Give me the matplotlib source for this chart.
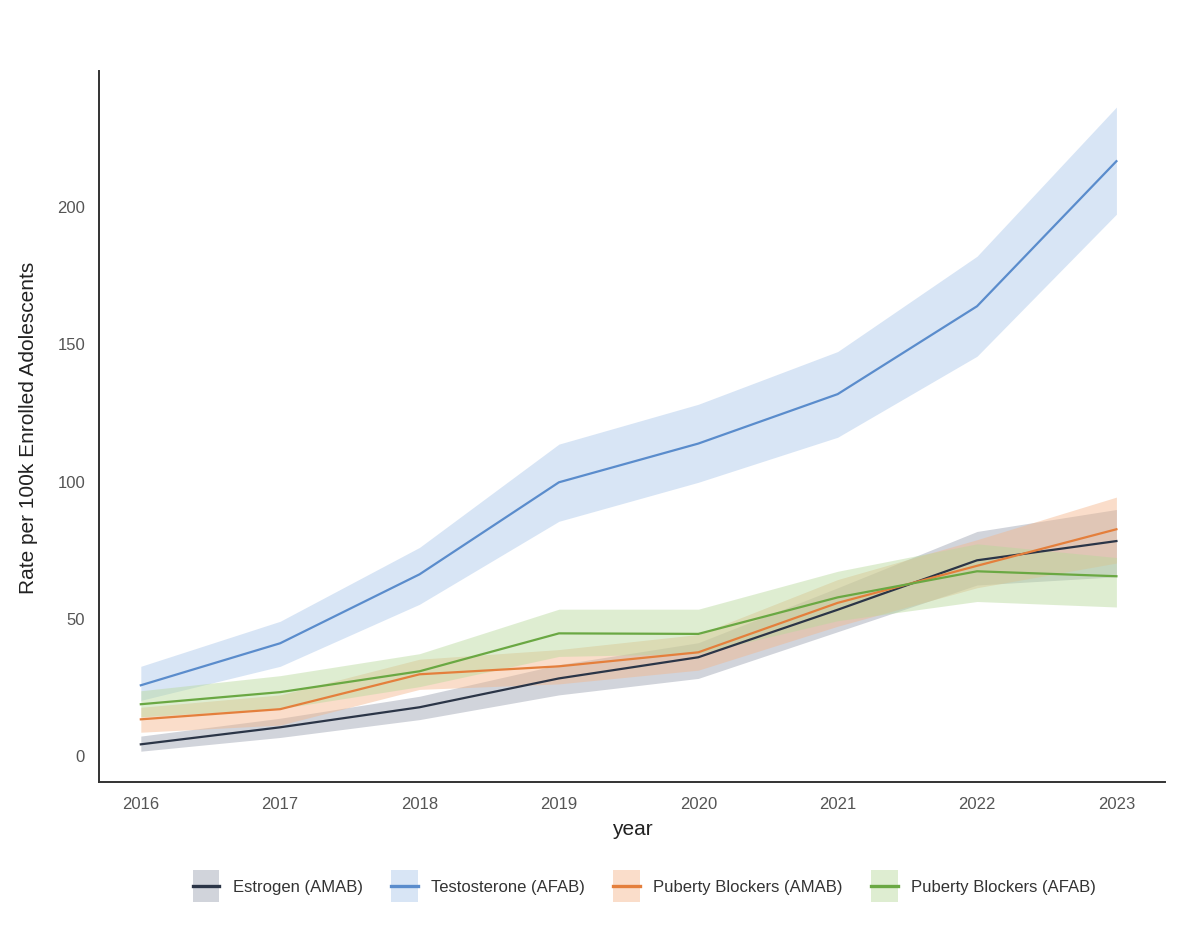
import matplotlib.pyplot as plt
import numpy as np
from matplotlib.patches import Patch, Rectangle
from matplotlib.lines import Line2D

plt.rcParams['font.family'] = ['Liberation Sans', 'DejaVu Sans']

# values
years = [2016, 2017, 2018, 2019, 2020, 2021, 2022, 2023]
series = ["Estrogen (AMAB)", "Testosterone (AFAB)", "Puberty Blockers (AMAB)", "Puberty Blockers (AFAB)"]

estrogen = [4.0, 10.2, 17.5, 28.0, 35.7, 53.0, 71.0, 78.0]
estrogen_lo = [1.5, 6.5, 13.0, 22.0, 28.0, 45.0, 62.0, 65.0]
estrogen_hi = [7.0, 13.5, 21.5, 33.0, 41.0, 61.0, 81.5, 89.5]

testosterone = [25.5, 40.8, 65.9, 99.4, 113.5, 131.5, 163.5, 216.3]
testosterone_lo = [20.0, 32.4, 55.0, 85.2, 99.4, 115.8, 145.3, 197.0]
testosterone_hi = [32.4, 48.8, 75.7, 113.3, 127.8, 147.0, 181.7, 236.0]

pb_amab = [13.1, 16.8, 29.5, 32.4, 37.5, 55.5, 69.0, 82.3]
pb_amab_lo = [8.4, 11.0, 24.0, 26.0, 31.0, 47.0, 61.0, 70.0]
pb_amab_hi = [17.5, 22.0, 35.0, 38.5, 44.0, 64.0, 78.5, 94.0]

pb_afab = [18.6, 23.0, 30.6, 44.4, 44.2, 57.5, 67.0, 65.2]
pb_afab_lo = [14.0, 17.0, 25.0, 36.0, 37.0, 49.0, 56.0, 54.0]
pb_afab_hi = [23.5, 29.0, 37.0, 53.2, 53.2, 67.0, 77.0, 72.0]

colors = ["#2b3547", "#5a8ccc", "#e47f3c", "#6aa843"]
band_colors = ["#9aa0b0", "#a9c6ea", "#f4b58a", "#b7d99b"]

means = [estrogen, testosterone, pb_amab, pb_afab]
lows = [estrogen_lo, testosterone_lo, pb_amab_lo, pb_afab_lo]
highs = [estrogen_hi, testosterone_hi, pb_amab_hi, pb_afab_hi]

fig = plt.figure(figsize=(12, 9.28), dpi=100)
ax = fig.add_axes([0.0825, 0.156, 0.8885, 0.766])

x = np.array(years)
for m, lo, hi, c, bc in zip(means, lows, highs, colors, band_colors):
	ax.fill_between(x, lo, hi, color=bc, alpha=0.45, linewidth=0)
for m, c in zip(means, colors):
	ax.plot(x, m, color=c, linewidth=1.6)

ax.set_xlim(2015.70, 2023.35)
ax.set_ylim(-9.8, 249)
ax.set_xticks(years)
ax.set_yticks([0, 50, 100, 150, 200])
ax.tick_params(length=0, labelsize=12, labelcolor="#555555", pad=10)
for s in ["top", "right"]:
	ax.spines[s].set_visible(False)
for s in ["left", "bottom"]:
	ax.spines[s].set_color("#333333")
	ax.spines[s].set_linewidth(1.4)

ax.set_xlabel("year", fontsize=15, color="#222222", labelpad=6)
ax.set_ylabel("Rate per 100k Enrolled Adolescents", fontsize=15, color="#222222", labelpad=14)


# legend key: shaded square with the line through its middle
class BandLineHandler:
	def legend_artist(self, legend, orig_handle, fontsize, handlebox):
		patch, line = orig_handle
		x0, y0 = handlebox.xdescent, handlebox.ydescent
		w, h = handlebox.width, handlebox.height
		rect = Rectangle((-x0, -y0), w, h, facecolor=patch.get_facecolor(), edgecolor="none",
		                 transform=handlebox.get_transform())
		ln = Line2D([-x0, -x0 + w], [-y0 + h / 2] * 2, color=line.get_color(),
		            linewidth=line.get_linewidth(), transform=handlebox.get_transform())
		handlebox.add_artist(rect)
		handlebox.add_artist(ln)
		return rect


handles = [(Patch(facecolor=bc, alpha=0.45, edgecolor="none"), Line2D([], [], color=c, linewidth=2.4))
           for c, bc in zip(colors, band_colors)]
fig.legend(handles, series, loc="center", bbox_to_anchor=(0.537, 0.044), ncol=4, frameon=False,
           fontsize=12, handlelength=1.6, handleheight=2.6, columnspacing=1.7, handletextpad=0.8,
           labelcolor="#333333", handler_map={tuple: BandLineHandler()})

fig.savefig("out.png", dpi=100)
